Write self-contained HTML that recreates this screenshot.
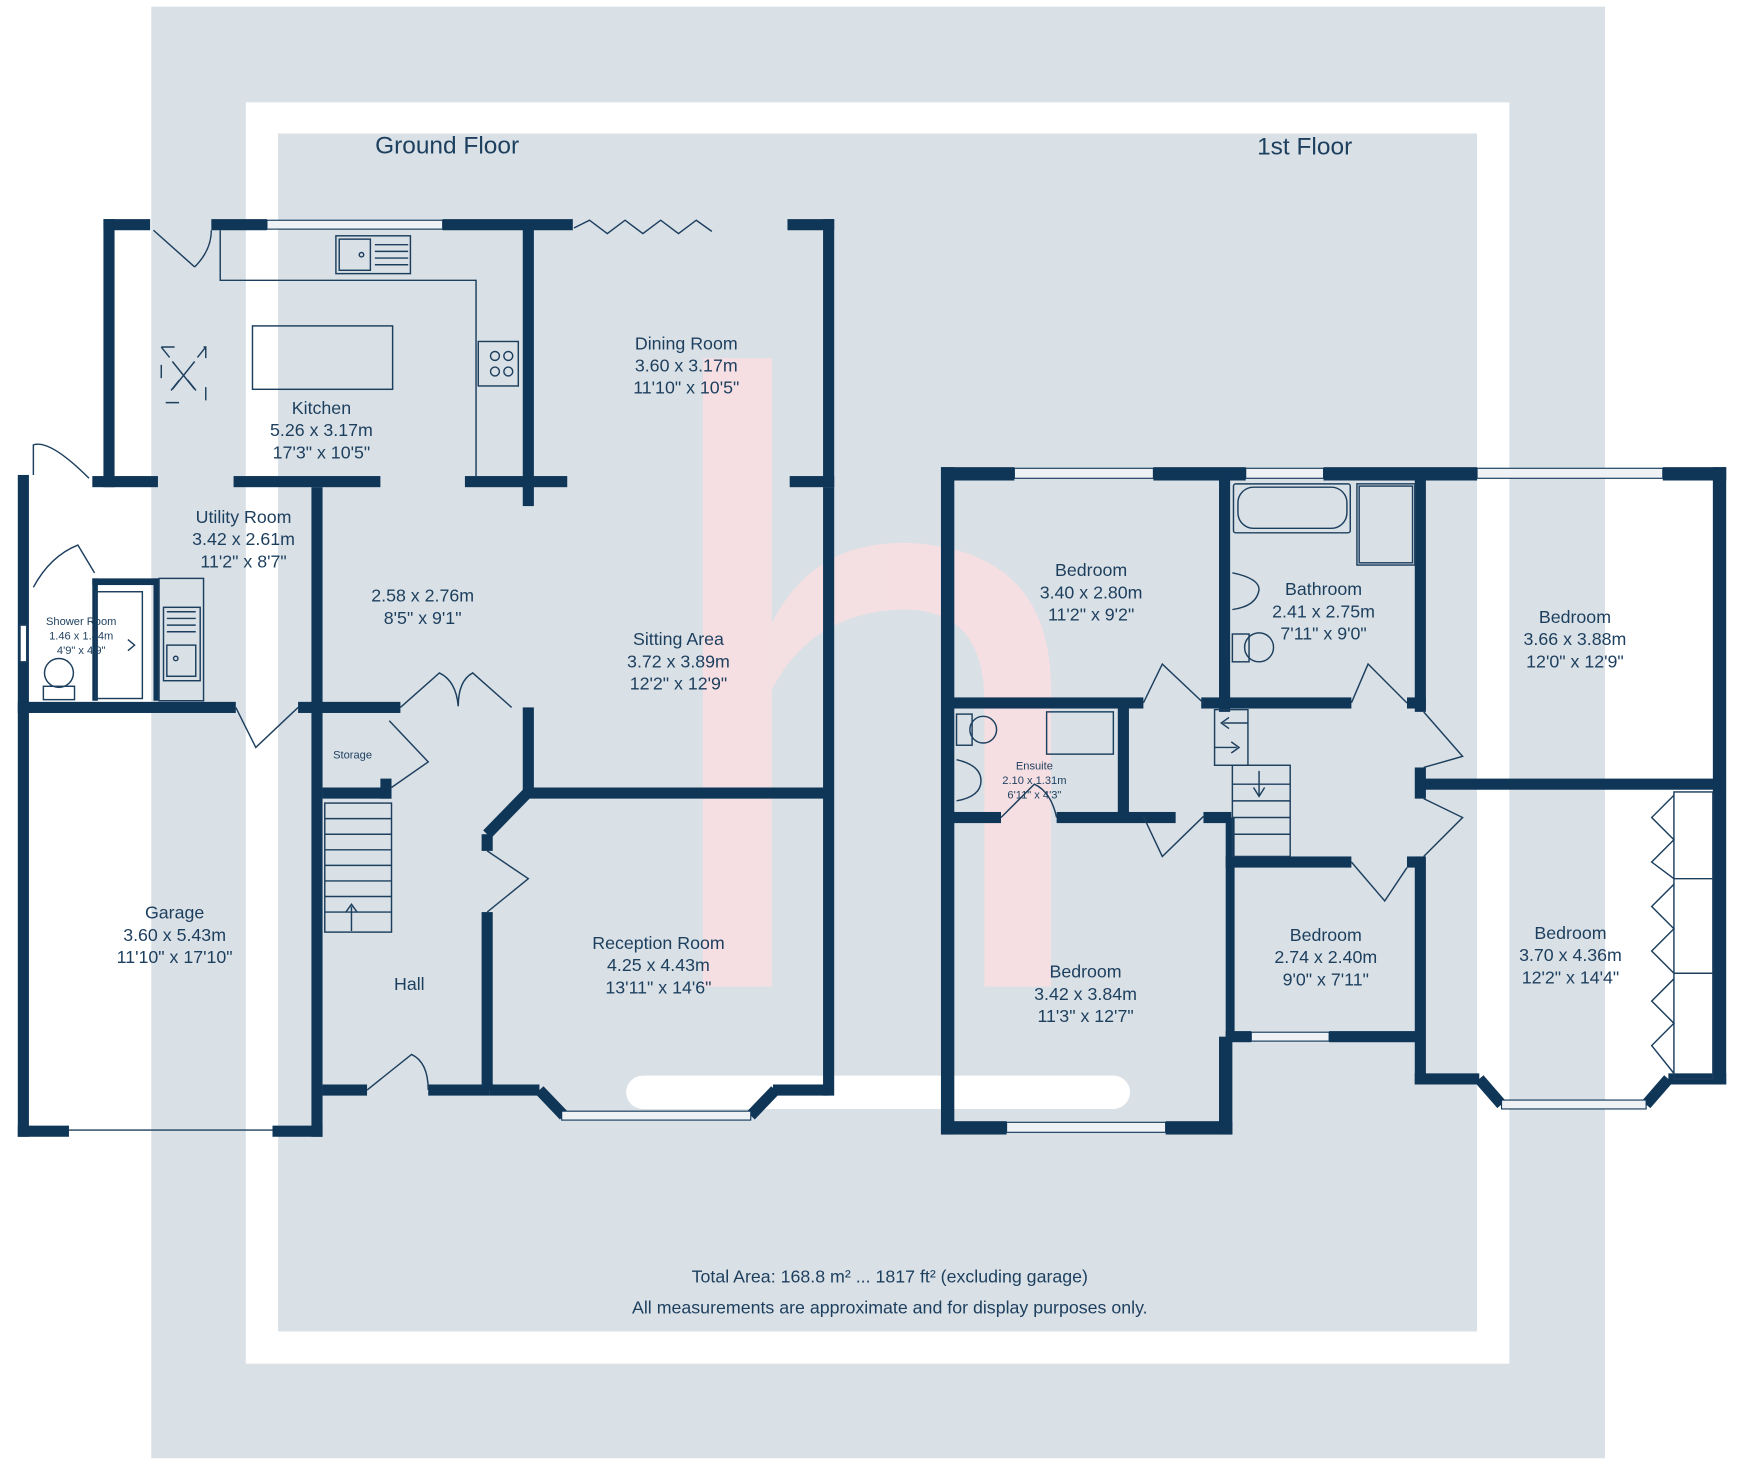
<!DOCTYPE html>
<html><head><meta charset="utf-8"><style>
html,body{margin:0;padding:0;background:#fff;}
svg{display:block}
text{font-family:"Liberation Sans",sans-serif;fill:#1d3f5e;text-anchor:middle}
</style></head><body>
<svg width="1744" height="1466" viewBox="0 0 1568 1318" preserveAspectRatio="none" xmlns="http://www.w3.org/2000/svg">
<rect x="0" y="0" width="1568" height="1318" fill="#fff"/>
<rect x="136" y="6" width="1307" height="1305" fill="#d9e0e6"/>
<rect x="221" y="92" width="1136" height="1134" fill="#fff"/>
<rect x="250" y="120" width="1078" height="1077" fill="#d9e0e6"/>
<!-- watermark -->
<g fill="#f7dfe2" opacity="0.9">
<rect x="632" y="322" width="62" height="565"/>
<path d="M694 560 Q730 488 812 488 Q945 492 945 620 L945 887 L885 887 L885 630 Q885 548 812 548 Q730 550 694 620 Z"/>
</g>
<rect x="563" y="967" width="453" height="30" rx="15" fill="#fff"/>
<text x="402" y="138" font-size="22">Ground Floor</text>
<text x="1173" y="139" font-size="22">1st Floor</text>
<g fill="#0f3557">
<rect x="93" y="197" width="42" height="10"/>
<rect x="190" y="197" width="50" height="10"/>
<rect x="398" y="197" width="117" height="10"/>
<rect x="708" y="197" width="42" height="10"/>
<rect x="93" y="197" width="10" height="241"/>
<rect x="740" y="197" width="10" height="241"/>
<rect x="710" y="428" width="40" height="10"/>
<rect x="740" y="438" width="10" height="547"/>
<rect x="470" y="202" width="10" height="253"/>
<rect x="83" y="428" width="59" height="10"/>
<rect x="210" y="428" width="132" height="10"/>
<rect x="418" y="428" width="92" height="10"/>
<rect x="16" y="427" width="10" height="595"/>
<rect x="280" y="438" width="10" height="584"/>
<rect x="16" y="631" width="196" height="10"/>
<rect x="268" y="631" width="92" height="10"/>
<rect x="16" y="1012" width="46" height="10"/>
<rect x="245" y="1012" width="45" height="10"/>
<rect x="470" y="636" width="10" height="76"/>
<rect x="475" y="708" width="270" height="10"/>
<rect x="433" y="750" width="10" height="15"/>
<rect x="433" y="820" width="10" height="160"/>
<rect x="290" y="708" width="62" height="10"/>
<rect x="342" y="700" width="10" height="18"/>
<rect x="290" y="975" width="40" height="10"/>
<rect x="385" y="975" width="55" height="10"/>
<rect x="440" y="975" width="45" height="10"/>
<rect x="695" y="975" width="50" height="10"/>
<rect x="83" y="520" width="60" height="6"/>
<rect x="83" y="520" width="5" height="110"/>
<rect x="138" y="520" width="5" height="110"/>
<rect x="846" y="420" width="66" height="12"/>
<rect x="1037" y="420" width="83" height="12"/>
<rect x="1190" y="420" width="138" height="12"/>
<rect x="1495" y="420" width="57" height="12"/>
<rect x="846" y="420" width="12" height="600"/>
<rect x="846" y="1008" width="59" height="12"/>
<rect x="1048" y="1008" width="60" height="12"/>
<rect x="1096" y="932" width="12" height="88"/>
<rect x="1096" y="425" width="10" height="215"/>
<rect x="1272" y="425" width="10" height="215"/>
<rect x="1080" y="627" width="135" height="10"/>
<rect x="1265" y="627" width="17" height="10"/>
<rect x="1540" y="420" width="12" height="555"/>
<rect x="1280" y="700" width="267" height="10"/>
<rect x="1272" y="690" width="10" height="28"/>
<rect x="1272" y="770" width="10" height="205"/>
<rect x="1272" y="965" width="58" height="10"/>
<rect x="1500" y="965" width="52" height="10"/>
<rect x="852" y="627" width="176" height="10"/>
<rect x="1005" y="632" width="10" height="103"/>
<rect x="950" y="730" width="107" height="10"/>
<rect x="852" y="730" width="48" height="10"/>
<rect x="1082" y="730" width="25" height="10"/>
<rect x="1102" y="735" width="8" height="200"/>
<rect x="1102" y="770" width="113" height="10"/>
<rect x="1265" y="770" width="15" height="10"/>
<rect x="1102" y="927" width="23" height="10"/>
<rect x="1195" y="927" width="80" height="10"/>
</g>
<g fill="none" stroke="#0f3557" stroke-width="10">
<path d="M475 712 L438 750"/>
<path d="M485 980 L507 1003 M675 1003 L697 980"/>
<path d="M1330 970 L1350 993 M1480 993 L1500 970"/>
</g>
<g fill="#eef2f5" stroke="#0f3557" stroke-width="1">
<rect x="240" y="198" width="158" height="8"/>
<rect x="505" y="999" width="170" height="8"/>
<rect x="912" y="421" width="125" height="9"/>
<rect x="1120" y="421" width="70" height="9"/>
<rect x="1328" y="421" width="167" height="9"/>
<rect x="905" y="1009" width="143" height="9"/>
<rect x="1125" y="928" width="70" height="8"/>
<rect x="1350" y="989" width="130" height="8"/>
</g>
<g fill="none" stroke="#1d3f5e" stroke-width="1.3">
<path d="M62 1016 L245 1016"/>
<path d="M198 207 L198 252 L428 252 L428 428"/>
<rect x="227" y="293" width="126" height="57"/>
<rect x="302" y="212" width="67" height="34"/><rect x="305" y="215" width="28" height="28"/><circle cx="325" cy="229" r="2"/>
<path d="M337 220h30M337 226h30M337 232h30M337 238h30"/>
<rect x="430" y="307" width="36" height="40"/><circle cx="445" cy="320" r="4"/><circle cx="457" cy="320" r="4"/><circle cx="445" cy="334" r="4"/><circle cx="457" cy="334" r="4"/>
<path d="M145 312 L185 312 L185 362 L145 362 Z M145 312 L185 362 M185 312 L145 362" stroke-dasharray="12 26"/>
<path d="M155 325 L175 350 M175 325 L155 350"/>
<path d="M516 205 L530 198 L546 210 L562 198 L578 210 L594 198 L610 210 L626 198 L640 208"/>
<path d="M138 207 L175 240 M175 240 Q190 225 190 207"/>
<path d="M30 427 L30 400 Q45 395 80 430"/>
<path d="M30 528 Q45 500 70 490 L85 515"/>
<rect x="86" y="532" width="42" height="96"/>
<path d="M115 575 l6 5 l-6 5"/>
<rect x="143" y="520" width="40" height="110"/><rect x="147" y="546" width="33" height="66"/><rect x="150" y="580" width="26" height="28"/><circle cx="158" cy="592" r="2"/>
<path d="M150 550h26M150 556h26M150 562h26M150 568h26"/>
<circle cx="53" cy="605" r="13"/><rect x="39" y="617" width="28" height="12"/>
<rect x="18" y="562" width="6" height="33" fill="#fff"/>
<path d="M212 636 L230 672 L268 636"/>
<path d="M360 636 L395 605 Q410 612 412 635 M460 636 L425 605 Q412 612 412 635"/>
<path d="M350 648 L385 685 L352 708"/>
<rect x="292" y="722" width="60" height="116"/>
<path d="M292 736h60M292 750h60M292 764h60M292 778h60M292 792h60M292 806h60M292 820h60"/>
<path d="M316 837 L316 815 M311 820 L316 813 L321 820"/>
<path d="M438 765 L475 790 L438 820"/>
<path d="M330 980 L370 948 Q385 955 385 980"/>
</g>
<g fill="none" stroke="#1d3f5e" stroke-width="1.3">
<rect x="1109" y="435" width="105" height="44" rx="2"/><rect x="1113" y="438" width="98" height="37" rx="14"/>
<rect x="1220" y="435" width="52" height="73"/><rect x="1222" y="437" width="48" height="69"/>
<path d="M1108 515 Q1132 520 1132 530 Q1130 545 1108 548"/>
<circle cx="1132" cy="582" r="13"/><rect x="1108" y="570" width="15" height="25"/>
<path d="M1028 632 L1045 597 L1082 632 M1028 734 L1045 770 L1082 734"/>
<path d="M1215 632 L1230 597 L1265 632"/>
<path d="M1280 640 L1315 680 L1280 690"/>
<path d="M1280 718 L1315 735 L1280 770"/>
<path d="M1215 775 L1245 810 L1265 780"/>
<rect x="1092" y="638" width="30" height="50"/>
<path d="M1122 650 L1100 650 M1105 645 L1098 650 L1105 655 M1092 672 L1112 672 M1107 667 L1114 672 L1107 677"/>
<rect x="1108" y="688" width="52" height="82"/>
<path d="M1108 705h52M1108 720h52M1108 735h52M1108 750h52"/>
<path d="M1132 693 L1132 715 M1127 708 L1132 716 L1137 708"/>
<rect x="941" y="640" width="60" height="38"/>
<rect x="860" y="642" width="14" height="28"/><circle cx="884" cy="656" r="12"/>
<path d="M860 683 Q882 688 882 702 Q882 716 860 720"/>
<path d="M900 735 L930 705 Q945 712 950 735"/>
<rect x="1505" y="712" width="35" height="258"/>
<path d="M1505 790h35M1505 875h35"/>
<path d="M1505 715 L1485 735 L1505 755 L1485 775 L1505 790 M1505 795 L1485 815 L1505 835 L1485 855 L1505 875 M1505 880 L1485 900 L1505 920 L1485 940 L1505 965"/>
</g>
<g font-size="16">
<text x="617" y="314">Dining Room</text><text x="617" y="334">3.60 x 3.17m</text><text x="617" y="354">11'10" x 10'5"</text>
<text x="289" y="372">Kitchen</text><text x="289" y="392">5.26 x 3.17m</text><text x="289" y="412">17'3" x 10'5"</text>
<text x="219" y="470">Utility Room</text><text x="219" y="490">3.42 x 2.61m</text><text x="219" y="510">11'2" x 8'7"</text>
<text x="380" y="541">2.58 x 2.76m</text><text x="380" y="561">8'5" x 9'1"</text>
<text x="610" y="580">Sitting Area</text><text x="610" y="600">3.72 x 3.89m</text><text x="610" y="620">12'2" x 12'9"</text>
<text x="157" y="826">Garage</text><text x="157" y="846">3.60 x 5.43m</text><text x="157" y="866">11'10" x 17'10"</text>
<text x="368" y="890">Hall</text>
<text x="592" y="853">Reception Room</text><text x="592" y="873">4.25 x 4.43m</text><text x="592" y="893">13'11" x 14'6"</text>
<text x="981" y="518">Bedroom</text><text x="981" y="538">3.40 x 2.80m</text><text x="981" y="558">11'2" x 9'2"</text>
<text x="1190" y="535">Bathroom</text><text x="1190" y="555">2.41 x 2.75m</text><text x="1190" y="575">7'11" x 9'0"</text>
<text x="1416" y="560">Bedroom</text><text x="1416" y="580">3.66 x 3.88m</text><text x="1416" y="600">12'0" x 12'9"</text>
<text x="976" y="879">Bedroom</text><text x="976" y="899">3.42 x 3.84m</text><text x="976" y="919">11'3" x 12'7"</text>
<text x="1192" y="846">Bedroom</text><text x="1192" y="866">2.74 x 2.40m</text><text x="1192" y="886">9'0" x 7'11"</text>
<text x="1412" y="844">Bedroom</text><text x="1412" y="864">3.70 x 4.36m</text><text x="1412" y="884">12'2" x 14'4"</text>
<text x="800" y="1153">Total Area: 168.8 m² ... 1817 ft² (excluding garage)</text>
<text x="800" y="1181">All measurements are approximate and for display purposes only.</text>
</g>
<g font-size="10">
<text x="73" y="562">Shower Room</text><text x="73" y="575">1.46 x 1.44m</text><text x="73" y="588">4'9" x 4'9"</text>
<text x="317" y="682">Storage</text>
<text x="930" y="692">Ensuite</text><text x="930" y="705">2.10 x 1.31m</text><text x="930" y="718">6'11" x 4'3"</text>
</g>
</svg>
</body></html>
